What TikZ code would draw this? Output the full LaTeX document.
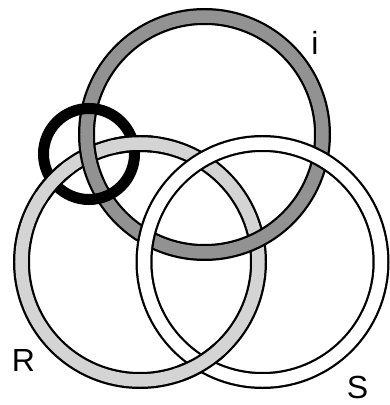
\documentclass[tikz,border=0pt]{standalone}
\usepackage{fontspec}
\setmainfont{Liberation Sans}
\definecolor{darkring}{HTML}{929292}
\definecolor{lightring}{HTML}{D4D4D4}
\begin{document}
\begin{tikzpicture}[x=1pt,y=1pt]
\useasboundingbox (0,0) rectangle (389,405);
\tikzset{
  ringedge/.style={draw=black, line width=17pt},
  ringfill/.style={line width=12.5pt},
  sinthome/.style={draw=black, line width=11pt},
  label/.style={inner sep=0pt, font=\fontsize{32}{32}\selectfont},
}
% full rings
\draw[ringedge] (140,143) circle[radius=118.5pt];
\draw[ringfill, draw=lightring] (140,143) circle[radius=118.5pt];
\draw[ringedge] (204.5,270.5) circle[radius=118pt];
\draw[ringfill, draw=darkring] (204.5,270.5) circle[radius=118pt];
\draw[ringedge] (262.5,143) circle[radius=118.5pt];
\draw[ringfill, draw=white] (262.5,143) circle[radius=118.5pt];
\draw[sinthome] (89,251) circle[radius=45.5pt];
% light ring over the black ring, and over the white ring at the bottom
\foreach \a/\b in {84/102, 129/146, -70/-48} {
  \pgfmathsetmacro{\aa}{\a-3}
  \pgfmathsetmacro{\bb}{\b+3}
  \draw[ringedge] (140,143) ++(\a:118.5pt) arc[start angle=\a, end angle=\b, radius=118.5pt];
  \draw[ringfill, draw=lightring] (140,143) ++(\aa:118.5pt) arc[start angle=\aa, end angle=\bb, radius=118.5pt];
}
% labels
\node[label] (li) at (315,362) {i};
\node[label] (lr) at (23.5,45) {R};
\node[label] (ls) at (357.5,18) {S};
\end{tikzpicture}
\end{document}
